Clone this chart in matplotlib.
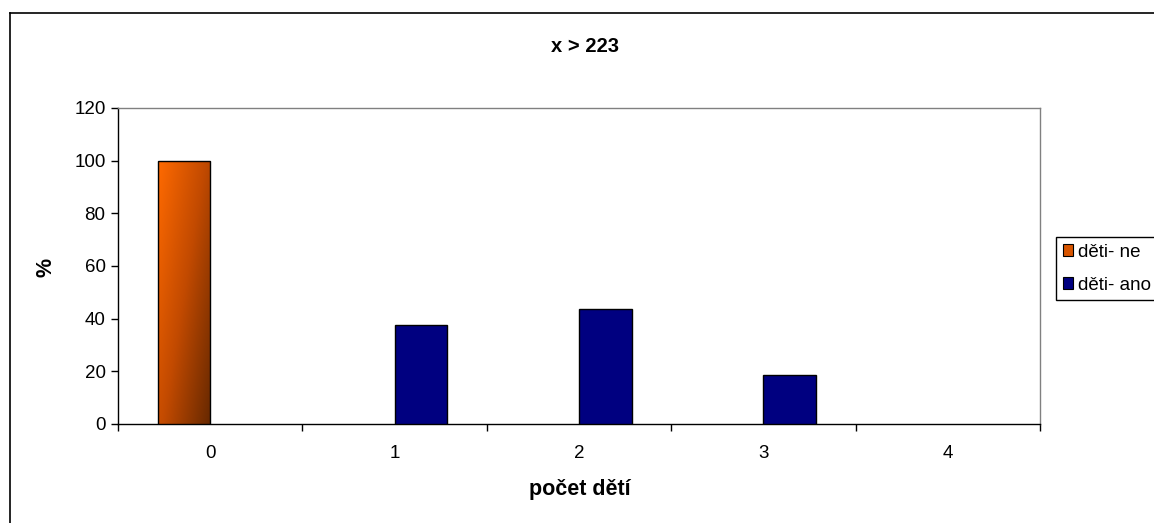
import numpy as np
import matplotlib
matplotlib.use("Agg")
import matplotlib.pyplot as plt
from matplotlib.lines import Line2D
from matplotlib.patches import Patch
from matplotlib.colors import LinearSegmentedColormap

plt.rcParams['font.family'] = ['Liberation Sans', 'DejaVu Sans']

# data
categories = ['0', '1', '2', '3', '4']
deti_ne = [100, 0, 0, 0, 0]
deti_ano = [0, 37.5, 43.75, 18.75, 0]
series_names = ['děti- ne', 'děti- ano']
title = 'x > 223'
x_label = 'počet dětí'
y_label = '%'

fig = plt.figure(figsize=(11.54, 5.23), dpi=100)
W, H = 1154, 523
ax = fig.add_axes([118 / W, 1 - 424 / H, (1040 - 118) / W, (424 - 108) / H])

x = np.arange(len(categories))
w = 1 / 3.5  # excel gap width 150%

bars_ne = ax.bar(x - w / 2, deti_ne, w, color='#E05A00', edgecolor='black', linewidth=1, zorder=3)
bars_ano = ax.bar(x + w / 2, deti_ano, w, color='#000080', edgecolor='black', linewidth=1, zorder=3)
for b in list(bars_ne) + list(bars_ano):
    if b.get_height() <= 0:
        b.set_visible(False)

# gradient fill for the orange bars (top-left bright, bottom-right dark)
cmap = LinearSegmentedColormap.from_list('og', ['#FF6A00', '#C24A00', '#662800'])
gy, gx = np.mgrid[0:1:200j, 0:1:60j]
grad = (gx * 0.55 + gy * 0.45)
for b in bars_ne:
    if b.get_height() <= 0:
        continue
    x0, y0 = b.get_x(), b.get_y()
    im = ax.imshow(grad, cmap=cmap, extent=[x0, x0 + b.get_width(), y0, y0 + b.get_height()],
                   aspect='auto', origin='upper', zorder=3.5, interpolation='bilinear')
    im.set_clip_path(b)
    b.set_facecolor('none')
    b.set_zorder(4)

ax.set_xlim(-0.5, len(categories) - 0.5)
ax.set_ylim(0, 120)
ax.set_yticks(np.arange(0, 121, 20))
ax.set_xticks(x)
ax.set_xticklabels(categories)
ax.set_xticks(np.arange(-0.5, len(categories), 1), minor=True)
ax.tick_params(axis='x', which='major', length=0, pad=15, labelsize=13.5)
ax.tick_params(axis='x', which='minor', length=5, direction='out', width=1)
ax.tick_params(axis='y', length=5, direction='out', width=1, pad=4, labelsize=13.5)

for s in ['top', 'right']:
    ax.spines[s].set_color('#808080')
    ax.spines[s].set_linewidth(1)
for s in ['left', 'bottom']:
    ax.spines[s].set_color('black')
    ax.spines[s].set_linewidth(1)

fig.text(585 / W, 1 - 47 / H, title, ha='center', va='center', fontsize=14.5, fontweight='bold')
fig.text(580 / W, 1 - 490 / H, x_label, ha='center', va='center', fontsize=15.5, fontweight='bold')
fig.text(46 / W, 1 - 267 / H, y_label, ha='center', va='center', fontsize=15.5, fontweight='bold', rotation=90)

# outer chart border (left and top)
fig.add_artist(Line2D([10 / W, 10 / W], [0, 1 - 13 / H], transform=fig.transFigure, color='black', lw=1.2))
fig.add_artist(Line2D([10 / W, 1], [1 - 13 / H, 1 - 13 / H], transform=fig.transFigure, color='black', lw=1.2))

handles = [Patch(facecolor='#D85500', edgecolor='black', linewidth=0.8),
           Patch(facecolor='#000080', edgecolor='black', linewidth=0.8)]
leg = fig.legend(handles, series_names, loc='upper left', bbox_to_anchor=(1056 / W, 1 - 237 / H),
                 fontsize=13.5, frameon=True, fancybox=False, framealpha=1, edgecolor='black',
                 handlelength=0.55, handleheight=0.55, handletextpad=0.25, borderpad=0.35,
                 labelspacing=0.85, borderaxespad=0)
leg.get_frame().set_linewidth(1)

fig.savefig('out.png', dpi=100)
